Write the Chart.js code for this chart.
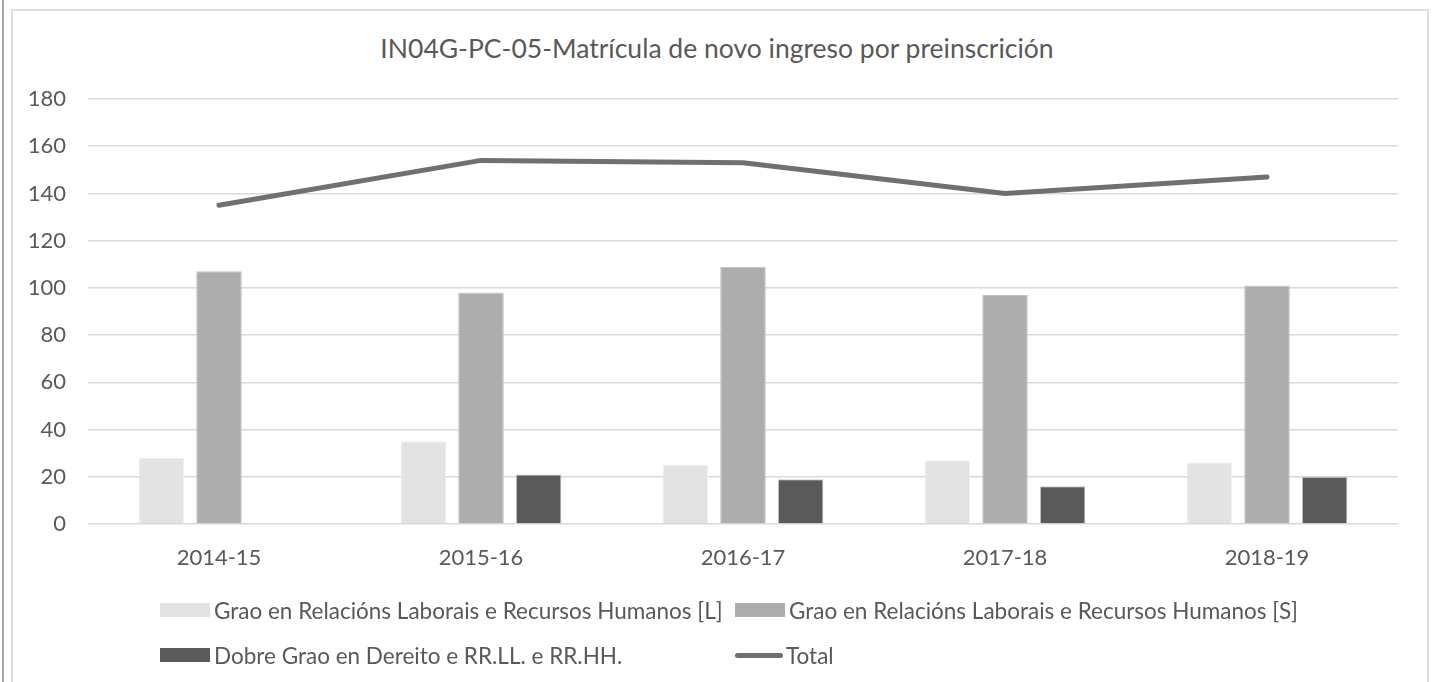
<!DOCTYPE html>
<html>
<head>
<meta charset="utf-8">
<script src="https://cdn.jsdelivr.net/npm/chart.js@4"></script>
<style>
	body { margin: 0; background: #fff; }
	#wrap { position: relative; width: 1432px; height: 682px; overflow: hidden; font-family: Lato, sans-serif; }
	#edge { position: absolute; left: 2px; top: 0; width: 2px; height: 682px; background: #a6a6a6; }
	#frame { position: absolute; left: 11px; top: 9px; width: 1414px; height: 700px; border: 2px solid #dedede; }
	#title { position: absolute; left: 0; top: 32px; width: 1434px; text-align: center; font-size: 26.5px; line-height: 32px; color: #595959; }
	canvas { position: absolute; left: 0; top: 0; }
	.item { position: absolute; height: 30px; display: flex; align-items: center; font-size: 22.5px; color: #595959; white-space: nowrap; }
	.box { width: 50px; height: 14px; margin-right: 4px; }
	.line { width: 48px; height: 5px; border-radius: 3px; margin-right: 3px; }
</style>
</head>
<body>
<div id="wrap">
	<div id="edge"></div>
	<div id="frame"></div>
	<div id="title"></div>
	<canvas id="chart" width="1432" height="682"></canvas>
	<div id="legend"></div>
</div>
<script>
const title = 'IN04G-PC-05-Matrícula de novo ingreso por preinscrición';
const years = ['2014-15', '2015-16', '2016-17', '2017-18', '2018-19'];
const gradoL = [28, 35, 25, 27, 26];
const gradoS = [107, 98, 109, 97, 101];
const dobre = [null, 21, 19, 16, 20];
const total = [135, 154, 153, 140, 147];

const names = [
	'Grao en Relacións Laborais e Recursos Humanos [L]',
	'Grao en Relacións Laborais e Recursos Humanos [S]',
	'Dobre Grao en Dereito e RR.LL. e RR.HH.',
	'Total',
];
const colors = ['#e3e3e3', '#adadad', '#5a5a5a', '#707070'];

const font = 'Lato';
const textColor = '#595959';

document.getElementById('title').textContent = title;

let datasets = [
	{type: 'bar', label: names[0], data: gradoL, backgroundColor: colors[0], borderColor: '#efefef', borderWidth: 1, order: 1},
	{type: 'bar', label: names[1], data: gradoS, backgroundColor: colors[1], borderColor: '#c2c2c2', borderWidth: 1, order: 1},
	{type: 'bar', label: names[2], data: dobre, backgroundColor: colors[2], borderColor: '#c8c8c8', borderWidth: 1, order: 1},
	{type: 'line', label: names[3], data: total, borderColor: colors[3], borderWidth: 5, pointRadius: 0,
		borderCapStyle: 'round', borderJoinStyle: 'round', tension: 0, order: 0},
];

new Chart(document.getElementById('chart'), {
	data: {labels: years, datasets: datasets},
	options: {
		responsive: false,
		animation: false,
		layout: {padding: {left: 14, right: 34, top: 99, bottom: 98}},
		datasets: {bar: {categoryPercentage: 0.66, barPercentage: 0.79}},
		plugins: {
			legend: {display: false},
			tooltip: {enabled: false},
		},
		scales: {
			x: {
				grid: {display: false},
				border: {display: false},
				ticks: {color: textColor, font: {family: font, size: 22}, padding: 13},
				afterFit: s => { s.height = 60; },
			},
			y: {
				min: 0,
				max: 180,
				ticks: {stepSize: 20, color: textColor, font: {family: font, size: 22}, padding: 22},
				grid: {color: '#d9d9d9', lineWidth: 1.5, drawTicks: false},
				border: {display: false},
				afterFit: s => { s.width = 74; },
			},
		},
	},
});

// legend laid out in two columns like the original
let legend = document.getElementById('legend');
let spots = [[160, 595], [735, 595], [160, 640], [735, 640]];
names.forEach((name, i) => {
	let item = document.createElement('div');
	item.className = 'item';
	item.style.left = spots[i][0] + 'px';
	item.style.top = spots[i][1] + 'px';
	let mark = document.createElement('span');
	mark.className = i == 3 ? 'line' : 'box';
	mark.style.background = colors[i];
	item.appendChild(mark);
	item.appendChild(document.createTextNode(name));
	legend.appendChild(item);
});
</script>
</body>
</html>
